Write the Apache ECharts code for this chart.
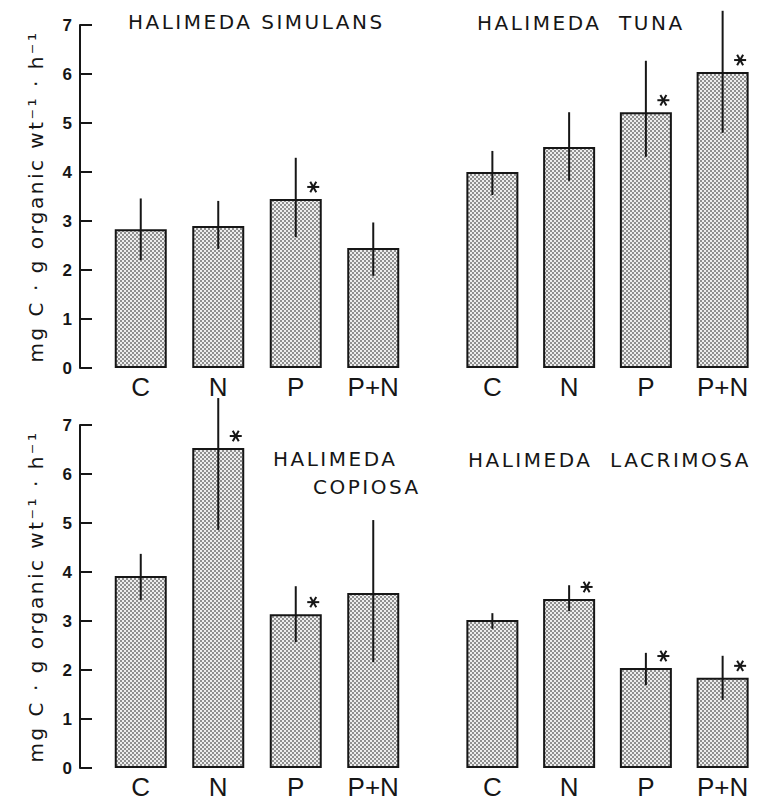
<!DOCTYPE html>
<html>
<head>
<meta charset="utf-8">
<script src="https://cdn.jsdelivr.net/npm/echarts@6/dist/echarts.min.js"></script>
<style>
  html, body { margin: 0; padding: 0; background: #fff; }
  #chart { width: 761px; height: 806px; }
  /* the lettering on the figure is widely spaced */
  #chart text[style*="DejaVu"] { letter-spacing: 2.5px; }
</style>
</head>
<body>
<div id="chart"></div>
<script>
  const categories = ['C', 'N', 'P', 'P+N']
  const yTicks = [0, 1, 2, 3, 4, 5, 6, 7]

  // Halimeda simulans
  const simulans = [2.83, 2.90, 3.45, 2.45]
  const simulansLow = [2.20, 2.43, 2.67, 1.88]
  const simulansHigh = [3.46, 3.41, 4.29, 2.97]
  const simulansSig = [0, 0, 1, 0]

  // Halimeda tuna
  const tuna = [4.00, 4.51, 5.22, 6.04]
  const tunaLow = [3.53, 3.82, 4.31, 4.80]
  const tunaHigh = [4.43, 5.22, 6.27, 7.29]
  const tunaSig = [0, 0, 1, 1]

  // Halimeda copiosa
  const copiosa = [3.92, 6.53, 3.14, 3.57]
  const copiosaLow = [3.43, 4.86, 2.57, 2.16]
  const copiosaHigh = [4.37, 7.55, 3.71, 5.06]
  const copiosaSig = [0, 1, 1, 0]

  // Halimeda lacrimosa
  const lacrimosa = [3.02, 3.45, 2.04, 1.84]
  const lacrimosaLow = [2.84, 3.20, 1.69, 1.39]
  const lacrimosaHigh = [3.16, 3.73, 2.35, 2.29]
  const lacrimosaSig = [0, 1, 1, 1]

  const yName = 'mg C · g organic wt⁻¹ · h⁻¹'
  const ink = '#161616'

  // stipple fill for the bars
  const tile = document.createElement('canvas')
  tile.width = 4
  tile.height = 4
  const tctx = tile.getContext('2d')
  tctx.fillStyle = '#eeeeee'
  tctx.fillRect(0, 0, 4, 4)
  tctx.fillStyle = '#909090'
  tctx.fillRect(0, 0, 2, 2)
  tctx.fillRect(2, 2, 2, 2)
  const stipple = { image: tile, repeat: 'repeat' }

  const grids = [
    { left: 102, top: 25, width: 310, height: 343 },
    { left: 454, top: 25, width: 307, height: 343 },
    { left: 102, top: 425, width: 310, height: 343 },
    { left: 454, top: 425, width: 307, height: 343 }
  ]

  function errorBar (params, api) {
    const lo = api.coord([api.value(0), api.value(1)])
    const hi = api.coord([api.value(0), api.value(2)])
    return {
      type: 'line',
      shape: { x1: lo[0], y1: lo[1], x2: hi[0], y2: hi[1] },
      style: { stroke: ink, lineWidth: 2 }
    }
  }

  function star (params, api) {
    const p = api.coord([api.value(0), api.value(1)])
    const cx = p[0] + 17.5
    const cy = p[1] - 12
    const r = 6
    const arms = []
    for (let k = 0; k < 3; k++) {
      const a = k * Math.PI / 3
      arms.push({
        type: 'line',
        shape: { x1: cx - r * Math.cos(a), y1: cy - r * Math.sin(a), x2: cx + r * Math.cos(a), y2: cy + r * Math.sin(a) },
        style: { stroke: ink, lineWidth: 2 }
      })
    }
    return { type: 'group', children: arms }
  }

  function panelSeries (i, values, low, high, sig) {
    return [
      {
        type: 'bar',
        xAxisIndex: i,
        yAxisIndex: i,
        barWidth: 52,
        data: values,
        itemStyle: { color: stipple, borderColor: ink, borderWidth: 2 },
        z: 2,
        silent: true
      },
      {
        type: 'custom',
        xAxisIndex: i,
        yAxisIndex: i,
        renderItem: errorBar,
        encode: { x: 0, y: [1, 2] },
        data: values.map((v, j) => [j, low[j], high[j]]),
        clip: false,
        z: 5,
        silent: true
      },
      {
        type: 'custom',
        xAxisIndex: i,
        yAxisIndex: i,
        renderItem: star,
        encode: { x: 0, y: 1 },
        data: values.map((v, j) => [j, v]).filter((d, j) => sig[j]),
        clip: false,
        z: 5,
        silent: true
      }
    ]
  }

  const xAxes = grids.map((g, i) => ({
    type: 'category',
    gridIndex: i,
    data: categories,
    axisLine: { show: false },
    axisTick: { show: false },
    axisLabel: {
      margin: 6,
      fontSize: 26,
      fontFamily: 'Liberation Sans',
      color: ink
    }
  }))

  const yAxes = grids.map((g, i) => {
    const withAxis = i % 2 === 0
    return {
      type: 'value',
      gridIndex: i,
      min: yTicks[0],
      max: yTicks[yTicks.length - 1],
      interval: 1,
      show: withAxis,
      offset: 22,
      name: withAxis ? yName : '',
      nameLocation: 'middle',
      nameRotate: 90,
      nameGap: 34,
      nameTextStyle: { fontFamily: 'DejaVu Sans', fontSize: 20, color: ink },
      axisLine: { show: true, lineStyle: { color: ink, width: 2 } },
      axisTick: { show: true, inside: true, length: 12, lineStyle: { color: ink, width: 2 } },
      splitLine: { show: false },
      axisLabel: {
        margin: 8,
        fontSize: 17,
        fontWeight: 'bold',
        fontFamily: 'Liberation Sans',
        color: ink
      }
    }
  })

  const titleStyle = { fontFamily: 'DejaVu Sans', fontSize: 20, fontWeight: 'normal', color: ink }
  const titles = [
    { text: 'HALIMEDA SIMULANS', left: 128, top: 12 },
    { text: 'HALIMEDA  TUNA', left: 477, top: 13 },
    { text: 'HALIMEDA', left: 273, top: 449 },
    { text: 'COPIOSA', left: 313, top: 477 },
    { text: 'HALIMEDA  LACRIMOSA', left: 468, top: 450 }
  ].map(t => Object.assign(t, { padding: 0, textStyle: titleStyle }))

  const chart = echarts.init(document.getElementById('chart'), null, { renderer: 'svg' })
  chart.setOption({
    animation: false,
    backgroundColor: '#fff',
    title: titles,
    grid: grids,
    xAxis: xAxes,
    yAxis: yAxes,
    series: [].concat(
      panelSeries(0, simulans, simulansLow, simulansHigh, simulansSig),
      panelSeries(1, tuna, tunaLow, tunaHigh, tunaSig),
      panelSeries(2, copiosa, copiosaLow, copiosaHigh, copiosaSig),
      panelSeries(3, lacrimosa, lacrimosaLow, lacrimosaHigh, lacrimosaSig)
    )
  })
</script>
</body>
</html>
